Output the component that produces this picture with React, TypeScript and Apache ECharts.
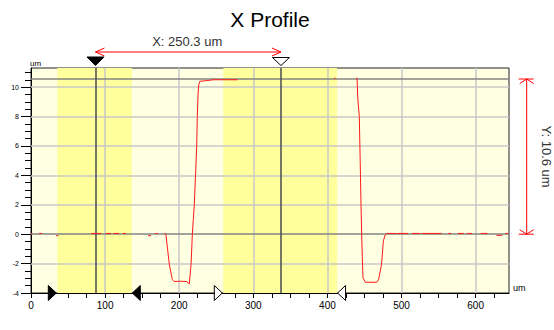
import React, { useEffect, useRef } from 'react';
import * as echarts from 'echarts';

// ---- data ----
const profileX = [
  0, 2, 6, 11, 15, 25, 34, 37, 60, 81, 95, 98, 101, 108, 110, 111, 119, 121, 124, 128, 140,
  158, 162, 165, 168, 171, 176, 180, 182, 186.6, 190.7, 193, 200, 210, 213.6, 216, 217.7, 219,
  220.4, 222, 223.6, 224.4, 225.5, 226.5, 228, 239, 246, 279, 300, 409, 411, 425, 438.5, 440,
  441, 443, 444.2, 445.3, 446.2, 447, 448, 451, 466.5, 469, 473, 475.5, 478, 480, 493, 493.5,
  494, 509, 511, 514, 525, 526, 527, 554, 558, 563, 567, 570, 576, 584, 586, 588, 595, 600,
  607, 616, 620, 628, 636, 638, 640, 644,
];
const profileY = [
  0.03, 0.03, null, 0.05, 0.05, null, -0.1, -0.1, null, 0.05, 0.05, null, 0.05, 0.05, null, 0.05, 0.05, null, 0.05, 0.05, null,
  -0.1, -0.1, null, 0.05, 0.05, null, 0.05, 0, -2.05, -3.08, -3.22, -3.2, -3.22, -3.38, -2.05, 0, 1,
  2, 4, 6, 8, 9.6, 10.2, 10.4, 10.45, 10.5, 10.5, null, 10.6, 10.6, null, 10.6, 10.6,
  9.2, 8, 5, 2, 0, -1.5, -2.97, -3.27, -3.27, -3.1, -2.05, -0.45, -0.05, 0.05, 0.05, null,
  0.05, 0.05, null, 0.05, 0.05, null, 0.05, 0.05, null, 0.05, 0.05, null, 0.05, 0.05, null, 0.05, 0.05, null,
  0.05, 0.05, null, -0.08, -0.08, null, 0.05, 0.05,
];

const xLabels = [0, 100, 200, 300, 400, 500, 600];
const xTicks = [0, 25, 50, 75, 100, 125, 150, 175, 200, 225, 250, 275, 300, 325, 350, 375, 400, 425, 450, 475, 500, 525, 550, 575, 600, 625];
const yLabels = [-4, -2, 0, 2, 4, 6, 8, 10];
const yMinorTicks = [-4, -3.5, -3, -2.5, -2, -1.5, -1, -0.5, 0, 0.5, 1, 1.5, 2, 2.5, 3, 3.5, 4, 4.5, 5, 5.5, 6, 6.5, 7, 7.5, 8, 8.5, 9, 9.5, 10, 10.5, 11];
const gridXLines = [100, 200, 300, 400, 500, 600];
const gridYLines = [-2, 2, 4, 6, 8, 10];
const bandStarts = [35.5, 259.5];
const bandEnds = [136, 413];
const cursors = [87, 337.3];
const refLevels = [0, 10.55];

const FONT = '"Liberation Sans", Arial, sans-serif';

export default function App() {
  const ref = useRef<HTMLDivElement>(null);

  useEffect(() => {
    if (!ref.current) return;
    const chart = echarts.init(ref.current, undefined, { renderer: 'svg' });

    const option: any = {
      animation: false,
      grid: {
        left: 31, right: 45, top: 68, bottom: 37, show: true,
        backgroundColor: '#FFFFE1', borderColor: '#222', borderWidth: 1,
      },
      xAxis: {
        type: 'value', min: 0, max: 645,
        axisLine: { show: true, onZero: false, lineStyle: { color: '#000', width: 1 } },
        axisTick: { show: true, customValues: xTicks, length: 5, lineStyle: { color: '#000' } },
        axisLabel: { customValues: xLabels, fontSize: 10, color: '#000', margin: 7, fontFamily: FONT },
        splitLine: { show: false },
      },
      yAxis: [
        {
          type: 'value', min: -4, max: 11.3, position: 'left',
          axisLine: { show: true, onZero: false, lineStyle: { color: '#000', width: 1 } },
          axisTick: { show: true, customValues: yLabels, length: 10, lineStyle: { color: '#000' } },
          axisLabel: { customValues: yLabels, fontSize: 7, color: '#000', margin: 12, fontFamily: FONT },
          splitLine: { show: false },
        },
        {
          type: 'value', min: -4, max: 11.3, position: 'left',
          axisLine: { show: false, onZero: false },
          axisTick: { show: true, customValues: yMinorTicks, length: 6, lineStyle: { color: '#000' } },
          axisLabel: { show: false },
          splitLine: { show: false },
        },
      ],
      series: [
        {
          type: 'line', data: [], z: 1, silent: true,
          markArea: {
            silent: true,
            itemStyle: { color: '#FFFF9C' },
            data: bandStarts.map((s, i) => [{ xAxis: s }, { xAxis: bandEnds[i] }]),
          },
        },
        {
          type: 'line', data: [], z: 2, silent: true,
          markLine: {
            silent: true, symbol: ['none', 'none'], label: { show: false },
            lineStyle: { color: '#C8C8C8', width: 1.5, type: 'solid' },
            data: [
              ...gridXLines.map((v) => ({ xAxis: v })),
              ...gridYLines.map((v) => ({ yAxis: v })),
            ],
          },
        },
        {
          type: 'line', data: [], z: 3, silent: true,
          markLine: {
            silent: true, symbol: ['none', 'none'], label: { show: false },
            data: [
              ...refLevels.map((v) => ({ yAxis: v, lineStyle: { color: '#858585', width: 1.5, type: 'solid' } })),
              ...cursors.map((v) => ({ xAxis: v, lineStyle: { color: '#4A4A55', width: 1.5, type: 'solid' } })),
            ],
          },
        },
        {
          type: 'line', z: 5,
          data: profileX.map((x, i) => [x, profileY[i] === null ? '-' : profileY[i]]),
          symbol: 'none', showSymbol: false, connectNulls: false,
          lineStyle: { color: '#FF1A1A', width: 1 },
        },
      ],
    };
    chart.setOption(option);

    const px = (x: number, y: number) =>
      chart.convertToPixel({ xAxisIndex: 0, yAxisIndex: 0 }, [x, y]) as number[];

    const c1 = px(cursors[0], 0)[0];
    const c2 = px(cursors[1], 0)[0];
    const bottomY = px(0, -4)[1];
    const yTop = px(0, refLevels[1])[1];
    const yZero = px(0, refLevels[0])[1];
    const red = '#FF0000';
    const arrowY = 52;
    const dx = Math.round((cursors[1] - cursors[0]) * 10) / 10;
    const dy = Math.round((refLevels[1] - refLevels[0]) * 10) / 10;
    const vx = 526.7;

    const line = (x1: number, y1: number, x2: number, y2: number) => ({
      type: 'line', silent: true, shape: { x1, y1, x2, y2 }, style: { stroke: red, lineWidth: 1 },
    });

    const graphics: any[] = [
      {
        type: 'text', x: 270, y: 19.5, silent: true,
        style: { text: 'X Profile', font: `21px ${FONT}`, fill: '#000', textAlign: 'center', textVerticalAlign: 'middle' },
      },
      {
        type: 'text', x: (c1 + c2) / 2 - 1, y: 41, silent: true,
        style: { text: `X: ${dx.toFixed(1)} um`, font: `13px ${FONT}`, fill: '#333', textAlign: 'center', textVerticalAlign: 'middle' },
      },
      // horizontal measurement arrow
      line(c1, arrowY, c2, arrowY),
      { type: 'polyline', silent: true, shape: { points: [[c1 + 9, arrowY - 4], [c1, arrowY], [c1 + 9, arrowY + 4]] }, style: { stroke: red, lineWidth: 1, fill: 'none' } },
      { type: 'polyline', silent: true, shape: { points: [[c2 - 9, arrowY - 4], [c2, arrowY], [c2 - 9, arrowY + 4]] }, style: { stroke: red, lineWidth: 1, fill: 'none' } },
      // top cursor markers
      { type: 'polygon', silent: true, shape: { points: [[c1 - 8.5, 57], [c1 + 8.5, 57], [c1, 65.5]] }, style: { fill: '#000', stroke: '#000', lineWidth: 1 } },
      { type: 'polygon', silent: true, shape: { points: [[c2 - 8.5, 57.5], [c2 + 8.5, 57.5], [c2, 65.5]] }, style: { fill: '#fff', stroke: '#000', lineWidth: 1 } },
      // vertical measurement arrow
      line(vx, yTop, vx, yZero),
      line(vx - 8, yTop, vx + 7, yTop),
      line(vx - 8, yZero, vx + 7, yZero),
      { type: 'polyline', silent: true, shape: { points: [[vx - 7, yTop + 4.5], [vx, yTop], [vx + 7, yTop + 4.5]] }, style: { stroke: red, lineWidth: 1, fill: 'none' } },
      { type: 'polyline', silent: true, shape: { points: [[vx - 7, yZero - 4.5], [vx, yZero], [vx + 7, yZero - 4.5]] }, style: { stroke: red, lineWidth: 1, fill: 'none' } },
      {
        type: 'text', x: 546, y: (yTop + yZero) / 2, rotation: -Math.PI / 2, silent: true,
        style: { text: `Y: ${dy.toFixed(1)} um`, font: `13px ${FONT}`, fill: '#333', textAlign: 'center', textVerticalAlign: 'middle' },
      },
      // axis unit labels
      {
        type: 'text', x: 30, y: 63, silent: true,
        style: { text: 'um', font: `8px ${FONT}`, fill: '#000', textAlign: 'left', textVerticalAlign: 'middle' },
      },
      {
        type: 'text', x: 513, y: 288, silent: true,
        style: { text: 'um', font: `9px ${FONT}`, fill: '#000', textAlign: 'left', textVerticalAlign: 'middle' },
      },
    ];

    // band edge markers on the bottom axis
    bandStarts.forEach((s, i) => {
      const xs = px(s, 0)[0] - 1;
      const xe = px(bandEnds[i], 0)[0] + 0.5;
      const fill = i === 0 ? '#000' : '#fff';
      graphics.push({
        type: 'polygon', silent: true, z: 10,
        shape: { points: [[xs - 8, bottomY - 7.5], [xs - 8, bottomY + 7.5], [xs, bottomY]] },
        style: { fill, stroke: '#000', lineWidth: 1 },
      });
      graphics.push({
        type: 'polygon', silent: true, z: 10,
        shape: { points: [[xe + 8, bottomY - 7.5], [xe + 8, bottomY + 7.5], [xe, bottomY]] },
        style: { fill, stroke: '#000', lineWidth: 1 },
      });
    });

    chart.setOption({ graphic: graphics });

    return () => chart.dispose();
  }, []);

  return (
    <div
      ref={ref}
      style={{ position: 'fixed', left: 0, top: 0, width: 554, height: 330, background: '#fff' }}
    />
  );
}
